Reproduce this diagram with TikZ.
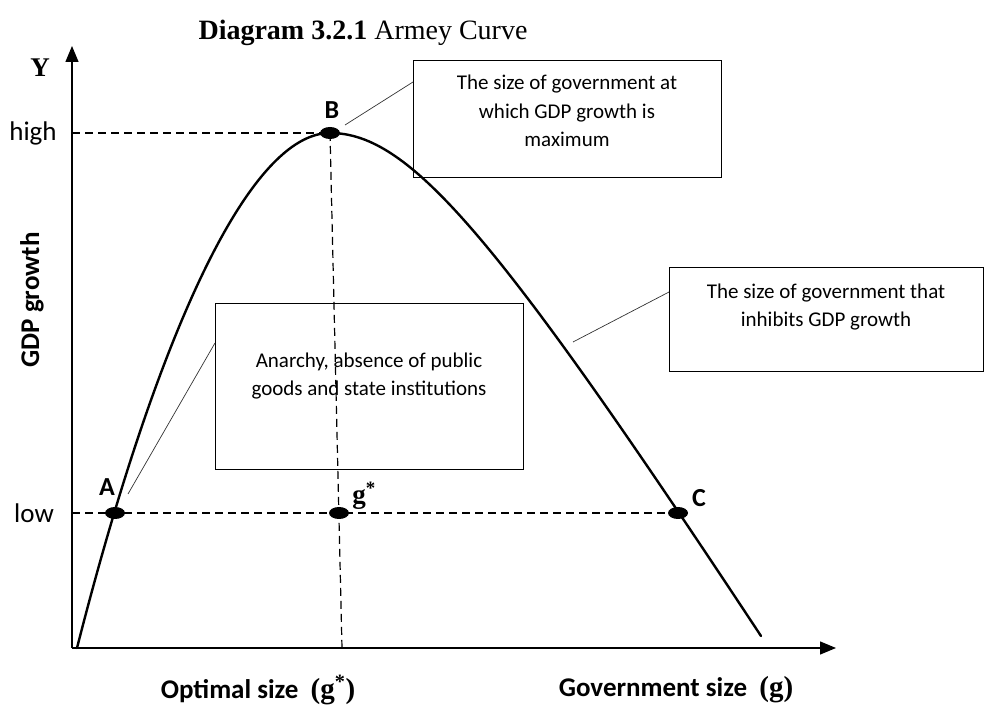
\documentclass[tikz,border=0pt]{standalone}
\usepackage{fontspec}
\setmainfont{Liberation Serif}
\newfontfamily\calibri{Carlito}
\usetikzlibrary{arrows.meta,shapes.geometric}
\begin{document}
\begin{tikzpicture}[x=1pt,y=-1pt,
  curve/.style={line width=2.4pt, line join=round, line cap=round},
  axisline/.style={line width=1.4pt, -{Triangle[length=16pt,width=13pt]}},
  guide/.style={line width=1.2pt, dash pattern=on 8pt off 5pt},
  boxframe/.style={draw, line width=1pt, fill=white, inner sep=0pt, anchor=north west},
  boxtext/.style={align=center, inner sep=0pt, font=\calibri\fontsize{21}{28.5}\selectfont},
  conn/.style={line width=0.7pt, black!80},
  dot/.style={ellipse, fill=black, minimum width=20pt, minimum height=12pt, inner sep=0pt},
  ptlab/.style={font=\calibri\bfseries\fontsize{26}{30}\selectfont, inner sep=0pt},
  ticklab/.style={font=\calibri\fontsize{27}{30}\selectfont, inner sep=0pt},
  axlab/.style={font=\calibri\bfseries\fontsize{27}{30}\selectfont, inner sep=0pt}]
\useasboundingbox (0,0) rectangle (989,708);

% coordinates
\coordinate (O) at (72,648);
\coordinate (ytip) at (72,46);
\coordinate (xtip) at (836,648);
\coordinate (hi) at (72,133);
\coordinate (lo) at (72,513);
\coordinate (gx) at (342,648);
\coordinate (pA) at (115,513);
\coordinate (pB) at (330,133);
\coordinate (pG) at (339,513);
\coordinate (pC) at (678,513);
\coordinate (cstart) at (77,648);
\coordinate (cend) at (761,636);

% title
\node (title) at (363,33) {\fontsize{28}{32}\selectfont\textbf{Diagram 3.2.1} Armey Curve};

% boxes
\node[boxframe, minimum width=308pt, minimum height=117pt] (b1) at (413,60) {};
\node[boxtext] (t1) at (567,111) {The size of government at\\which GDP growth is\\maximum};
\node[boxframe, minimum width=314pt, minimum height=104pt] (b2) at (669,267) {};
\node[boxtext] (t2) at (826,307) {The size of government that\\inhibits GDP growth};
\node[boxframe, minimum width=308pt, minimum height=166pt] (b3) at (215,303) {};
\node[boxtext] (t3) at (369,376) {Anarchy, absence of public\\goods and state institutions};

% axes
\draw[axisline] (O) -- (ytip);
\draw[axisline] (O) -- (xtip);

% guides
\draw[guide] (hi) -- (pB);
\draw[guide] (lo) -- (pC);
\draw[guide] (pB) -- (gx);

% curve
\draw[curve] (cstart) .. controls (158,330) and (250,133) .. (pB)
                      .. controls (410,133) and (497,236) .. (cend);

% connectors
\coordinate (c1a) at (345,125);
\coordinate (c1b) at (413,82);
\draw[conn] (c1a) -- (c1b);
\coordinate (c2a) at (573,342);
\coordinate (c2b) at (669,292);
\draw[conn] (c2a) -- (c2b);
\coordinate (c3a) at (128,494);
\coordinate (c3b) at (215,343);
\draw[conn] (c3a) -- (c3b);

% dots
\node[dot] (A) at (pA) {};
\node[dot] (B) at (pB) {};
\node[dot] (G) at (pG) {};
\node[dot] (C) at (pC) {};

% point labels
\node[ptlab] (lA) at (107,487) {A};
\node[ptlab] (lB) at (332,110) {B};
\node[ptlab] (lC) at (699,498) {C};
\node[inner sep=0pt, font=\bfseries\fontsize{27}{30}\selectfont] (lG) at (364,496) {g\textsuperscript{*}};

% axis labels
\node[inner sep=0pt, font=\bfseries\fontsize{27}{30}\selectfont] (Y) at (40,68) {Y};
\node[ticklab] (high) at (33,133) {high};
\node[ticklab] (low) at (34,513) {low};
\node[axlab, rotate=90] (gdp) at (32,300) {GDP growth};
\node[axlab] (opt) at (258,690) {Optimal size\ \ {\rmfamily\bfseries\fontsize{29}{30}\selectfont(g\textsuperscript{*})}};
\node[axlab] (gov) at (676,690) {Government size\ \ {\rmfamily\bfseries\fontsize{29}{30}\selectfont(g)}};
\end{tikzpicture}
\end{document}
